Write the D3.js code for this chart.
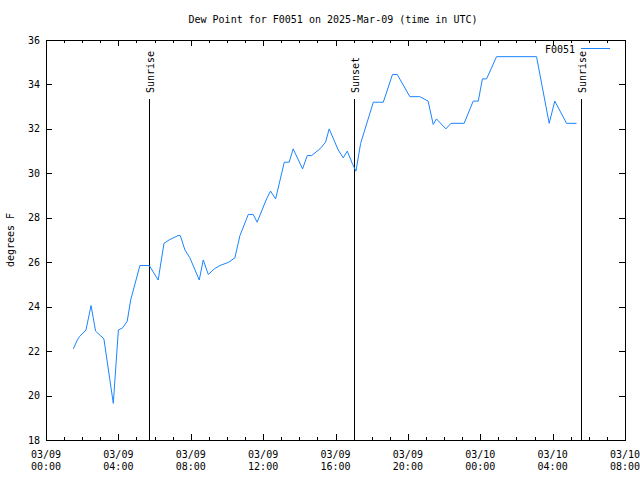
<!DOCTYPE html>
<html><head><meta charset="utf-8">
<script src="https://cdn.jsdelivr.net/npm/d3@7"></script>
<style>body{margin:0;background:#fff}svg{display:block}text{font-family:"DejaVu Sans Mono",monospace;font-size:10px;fill:#000}</style>
</head><body><svg id="c" width="640" height="480"></svg>
<script>
const title = "Dew Point for F0051 on 2025-Mar-09 (time in UTC)";
const seriesName = "F0051";
const yLabel = "degrees F";
// hours since 2025-03-09 00:00 UTC
const hours = [1.51,1.73,1.85,2.21,2.49,2.74,3.2,3.72,4.0,4.24,4.49,4.68,5.19,5.71,6.2,6.52,6.8,7.3,7.42,7.68,7.95,8.47,8.69,8.97,9.3,9.61,10.1,10.44,10.72,11.18,11.45,11.67,12.19,12.41,12.69,13.17,13.44,13.66,14.18,14.44,14.68,15.14,15.45,15.65,16.15,16.43,16.65,16.95,17.13,17.39,18.09,18.64,19.15,19.41,20.11,20.66,21.12,21.4,21.58,22.1,22.38,23.11,23.61,23.89,24.12,24.35,24.9,27.11,27.81,28.12,28.77,29.32];
const dewF = [22.1,22.5,22.65,22.95,24.05,22.9,22.55,19.65,22.95,23.05,23.35,24.3,25.85,25.85,25.2,26.85,27.0,27.2,27.2,26.55,26.2,25.2,26.1,25.45,25.7,25.85,26.0,26.2,27.2,28.15,28.15,27.8,28.85,29.2,28.85,30.5,30.5,31.1,30.2,30.8,30.8,31.1,31.4,32.0,31.05,30.7,31.0,30.4,30.1,31.35,33.2,33.2,34.45,34.45,33.45,33.45,33.25,32.2,32.45,32.0,32.25,32.25,33.25,33.25,34.25,34.25,35.25,35.25,32.25,33.25,32.25,32.25];
const sunEvents = ["Sunrise","Sunset","Sunrise"];
const sunHours = [5.69,17.02,29.56];
const yTicks = [18,20,22,24,26,28,30,32,34,36];
const xMajorHours = [0,4,8,12,16,20,24,28,32];

const t0 = Date.UTC(2025,2,9,0,0);
const toDate = h => new Date(t0 + h*3600e3);
const svg = d3.select("#c");
const L=46,R=625,T=40,B=440;
const x = d3.scaleUtc().domain([toDate(0),toDate(32)]).range([L,R]);
const y = d3.scaleLinear().domain([18,36]).range([B,T]);
const fmt1 = d3.utcFormat("%m/%d"), fmt2 = d3.utcFormat("%H:%M");
const minor = d3.range(0,33).filter(h=>h%4!==0).map(toDate);
const major = xMajorHours.map(toDate);

function styleAxis(g){g.select(".domain").remove();g.selectAll("line").attr("stroke","#000").attr("shape-rendering","crispEdges");g.selectAll("text").remove();}
// bottom
styleAxis(svg.append("g").attr("transform",`translate(0,${B})`).call(d3.axisBottom(x).tickValues(major).tickSize(-6)));
styleAxis(svg.append("g").attr("transform",`translate(0,${B})`).call(d3.axisBottom(x).tickValues(minor).tickSize(-3)));
const xl = svg.append("g").selectAll("g").data(major).join("g").attr("transform",d=>`translate(${x(d)},0)`);
xl.append("text").attr("y",458).attr("text-anchor","middle").text(d=>fmt1(d));
xl.append("text").attr("y",469.5).attr("text-anchor","middle").text(d=>fmt2(d));
// top
styleAxis(svg.append("g").attr("transform",`translate(0,${T})`).call(d3.axisTop(x).tickValues(major).tickSize(-6)));
styleAxis(svg.append("g").attr("transform",`translate(0,${T})`).call(d3.axisTop(x).tickValues(minor).tickSize(-3)));
// left
styleAxis(svg.append("g").attr("transform",`translate(${L},0)`).call(d3.axisLeft(y).tickValues(yTicks).tickSize(-6)));
svg.append("g").selectAll("text").data(yTicks).join("text").attr("x",40).attr("y",d=>y(d)).attr("dy","0.35em").attr("text-anchor","end").text(d3.format("d"));
styleAxis(svg.append("g").attr("transform",`translate(${R},0)`).call(d3.axisRight(y).tickValues(yTicks).tickSize(-6)));

// sun lines
sunHours.forEach((h,i)=>{
  const xx = Math.round(x(toDate(h)))+0.5;
  svg.append("line").attr("x1",xx).attr("x2",xx).attr("y1",99).attr("y2",B).attr("stroke","#000");
  svg.append("text").attr("transform",`translate(${xx+4},93) rotate(-90)`).attr("text-anchor","start").text(sunEvents[i]);
});

// series
const line = d3.line().x((d,i)=>x(toDate(hours[i]))).y(d=>y(d));
svg.append("path").datum(dewF).attr("d",line).attr("fill","none").attr("stroke","#1a84ff").attr("stroke-width",1);

// frame
svg.append("rect").attr("x",L+0.5).attr("y",T+0.5).attr("width",R-L).attr("height",B-T).attr("fill","none").attr("stroke","#000").attr("shape-rendering","crispEdges");

// title
svg.append("text").attr("x",333).attr("y",23).attr("text-anchor","middle").text(title);
svg.append("text").attr("transform","translate(14,240) rotate(-90)").attr("text-anchor","middle").text(yLabel);
// legend
svg.append("text").attr("x",575).attr("y",53).attr("text-anchor","end").text(seriesName);
svg.append("line").attr("x1",581).attr("x2",610).attr("y1",48.5).attr("y2",48.5).attr("stroke","#1a84ff");
</script></body></html>
